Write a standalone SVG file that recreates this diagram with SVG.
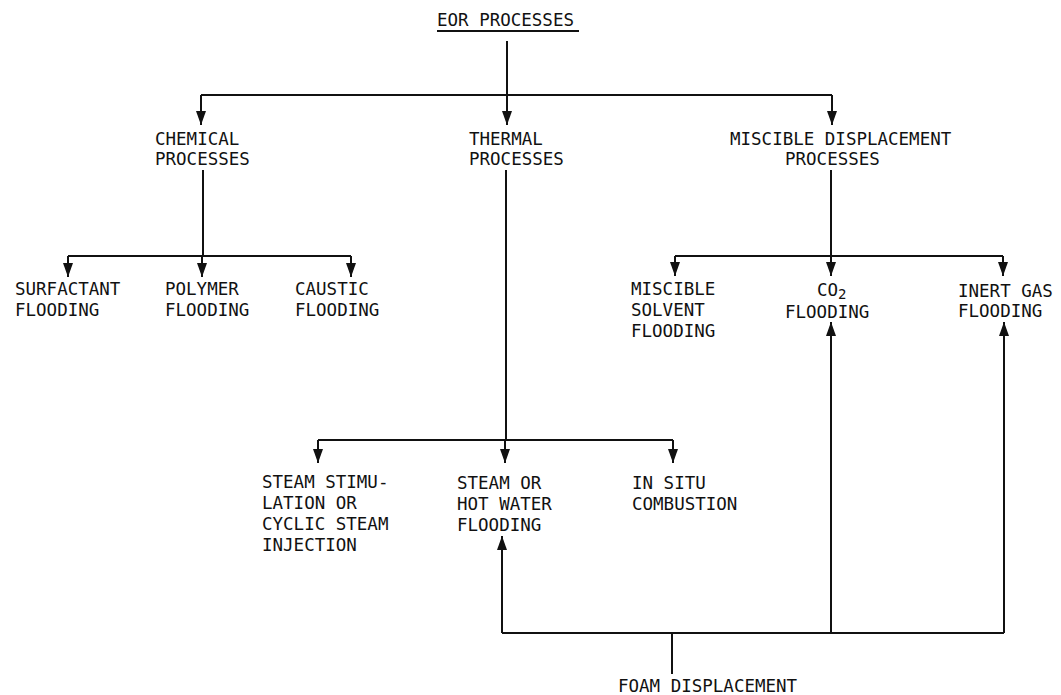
<svg xmlns="http://www.w3.org/2000/svg" width="1061" height="695" viewBox="0 0 1061 695">
<style>
text{font-family:"DejaVu Sans Mono","Liberation Mono",monospace;font-size:17.5px;fill:#111}
.sub{font-size:14px}
.c{stroke:#111;stroke-width:2;fill:none}
.a{marker-end:url(#ah)}
</style>
<defs>
<marker id="ah" viewBox="0 0 14 10" refX="14" refY="5" markerWidth="14" markerHeight="10" orient="auto" markerUnits="userSpaceOnUse">
<path d="M0,0 L14,5 L0,10 z" fill="#111"/>
</marker>
</defs>
<rect width="1061" height="695" fill="#fff"/>
<g id="connectors">
<path class="c" d="M507,41 V95"/>
<path class="c" d="M201,95 H832"/>
<path class="c a" d="M201,95 V125"/>
<path class="c a" d="M507,95 V125"/>
<path class="c a" d="M832,95 V125"/>
<path class="c" d="M203,170 V256"/>
<path class="c" d="M68,256 H351"/>
<path class="c a" d="M68,256 V277"/>
<path class="c a" d="M202,256 V277"/>
<path class="c a" d="M351,256 V277"/>
<path class="c" d="M506,170 V440"/>
<path class="c" d="M318,440 H673"/>
<path class="c a" d="M318,440 V463"/>
<path class="c a" d="M505,440 V463"/>
<path class="c a" d="M673,440 V463"/>
<path class="c" d="M831,170 V256"/>
<path class="c" d="M675,256 H1003"/>
<path class="c a" d="M675,256 V276"/>
<path class="c a" d="M831,256 V276"/>
<path class="c a" d="M1003,256 V276"/>
<path class="c" d="M502,633 H1004"/>
<path class="c a" d="M502,633 V536"/>
<path class="c a" d="M831,633 V322"/>
<path class="c a" d="M1004,633 V322"/>
<path class="c" d="M672,633 V674"/>
</g>
<g id="eor">
<text x="437" y="26">EOR PROCESSES</text>
<line class="c" x1="437" y1="31" x2="579" y2="31" stroke-width="1.5"/>
</g>
<g id="chemical"><text x="155" y="145">CHEMICAL</text><text x="155" y="165">PROCESSES</text></g>
<g id="thermal"><text x="469" y="145">THERMAL</text><text x="469" y="165">PROCESSES</text></g>
<g id="miscible"><text x="730" y="145">MISCIBLE DISPLACEMENT</text><text x="785" y="165">PROCESSES</text></g>
<g id="surfactant"><text x="15" y="295">SURFACTANT</text><text x="15" y="316">FLOODING</text></g>
<g id="polymer"><text x="165" y="295">POLYMER</text><text x="165" y="316">FLOODING</text></g>
<g id="caustic"><text x="295" y="295">CAUSTIC</text><text x="295" y="316">FLOODING</text></g>
<g id="solvent"><text x="631" y="295">MISCIBLE</text><text x="631" y="316">SOLVENT</text><text x="631" y="337">FLOODING</text></g>
<g id="co2"><text x="817" y="296">CO<tspan class="sub" dy="3">2</tspan></text><text x="785" y="318">FLOODING</text></g>
<g id="inert"><text x="958" y="297">INERT GAS</text><text x="958" y="317">FLOODING</text></g>
<g id="steamstim"><text x="262" y="488">STEAM STIMU-</text><text x="262" y="509">LATION OR</text><text x="262" y="530">CYCLIC STEAM</text><text x="262" y="551">INJECTION</text></g>
<g id="steamflood"><text x="457" y="489">STEAM OR</text><text x="457" y="510">HOT WATER</text><text x="457" y="531">FLOODING</text></g>
<g id="insitu"><text x="632" y="489">IN SITU</text><text x="632" y="510">COMBUSTION</text></g>
<g id="foam"><text x="618" y="692">FOAM DISPLACEMENT</text></g>
</svg>
